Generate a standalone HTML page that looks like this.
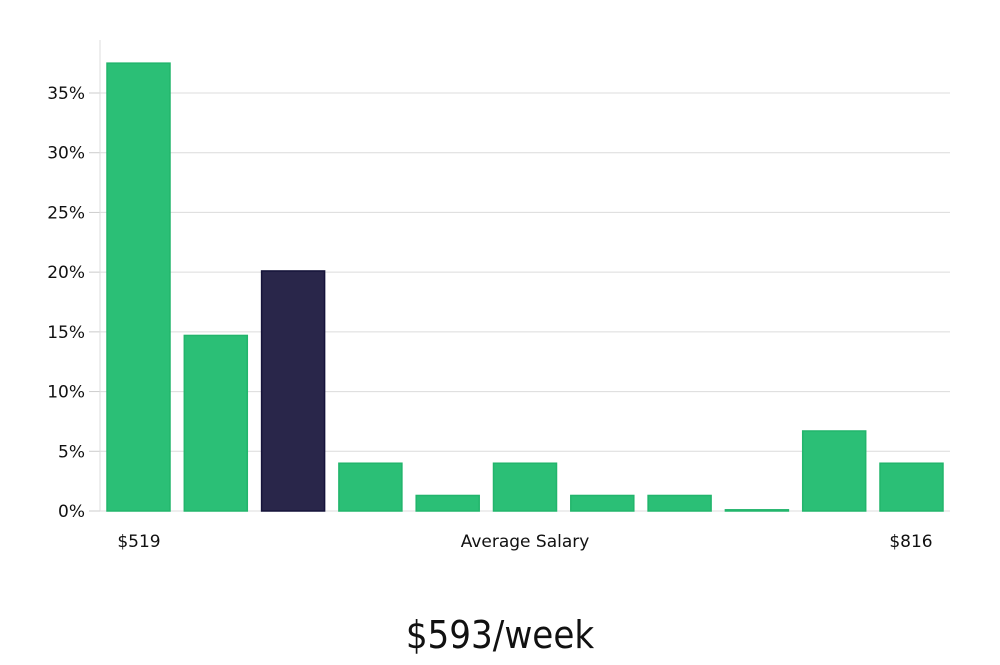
<!DOCTYPE html>
<html><head><meta charset="utf-8"><style>
body{margin:0;background:#fff;width:1000px;height:660px;overflow:hidden}
svg text{font-family:"DejaVu Sans","Liberation Sans",sans-serif}
</style></head><body>
<svg id="chart" width="1000" height="660" xmlns="http://www.w3.org/2000/svg"></svg>
<script>
const categories=["b1","b2","b3","b4","b5","b6","b7","b8","b9","b10","b11"];
const values=[37.5,14.7,20.1,4.0,1.3,4.0,1.3,1.3,0.1,6.7,4.0];
const highlight=[false,false,true,false,false,false,false,false,false,false,false];
const yTicks=[0,5,10,15,20,25,30,35];
const xLabels=["$519","Average Salary","$816"];
const NS="http://www.w3.org/2000/svg";
const svg=document.getElementById('chart');
const x0=100,x1=950,yBase=511,pxPer=(511-93)/35;
const y=v=>yBase-v*pxPer;
const step=(x1-x0-6)/categories.length;
const xb=i=>107+i*77.3;
function mk(t,a){const e=document.createElementNS(NS,t);for(const k in a)e.setAttribute(k,a[k]);svg.appendChild(e);return e;}
yTicks.forEach(t=>{
 let g=mk('line',{x1:x0,x2:x1,y1:y(t),y2:y(t),stroke:'#dcdcdc','stroke-width':1});
 
 let tk=mk('line',{x1:89,x2:x0,y1:y(t),y2:y(t),stroke:'#ccc','stroke-width':1});
 
 let l=mk('text',{x:85,y:y(t)+6,'text-anchor':'end','font-size':17,fill:'#111'});
 l.textContent=t+'%';
 
});
let ax=mk('line',{x1:x0,x2:x0,y1:40,y2:yBase,stroke:'#ddd','stroke-width':1});

values.forEach((v,i)=>{
 const hi=highlight[i];
 let r=mk('rect',{x:xb(i),y:y(v),width:63,height:Math.max(yBase-y(v),1),fill:hi?'#29264a':'#2bbf76',stroke:hi?'#15133a':'#22b56c','stroke-width':1.5});
 
});
[[139,xLabels[0]],[525,xLabels[1]],[911,xLabels[2]]].forEach(([px,s])=>{
 let t=mk('text',{x:px,y:547,'text-anchor':'middle','font-size':17,fill:'#111'});t.textContent=s;
 
});
let ti=mk('text',{x:500,y:648,'text-anchor':'middle','font-size':38,fill:'#111','font-weight':'300'});
ti.setAttribute('style','font-family:"Liberation Sans Narrow","DejaVu Sans Condensed",sans-serif');
ti.textContent='$593/week';

</script>
</body></html>
